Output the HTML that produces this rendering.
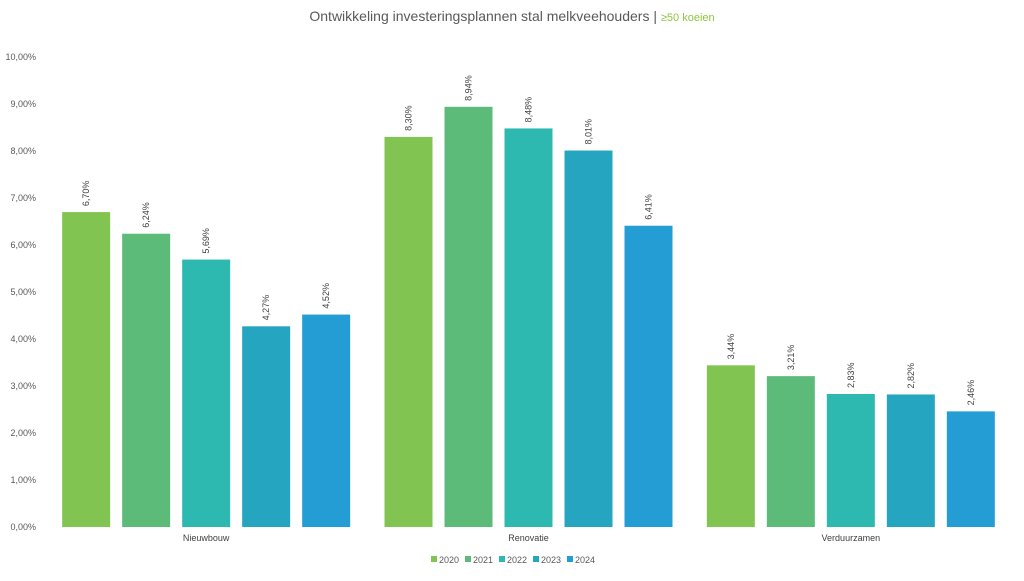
<!DOCTYPE html>
<html><head><meta charset="utf-8"><style>
body{margin:0;background:#fff;font-family:"Liberation Sans",sans-serif;}
svg text{font-family:"Liberation Sans",sans-serif;}
</style></head><body>
<svg id="chart" width="1024" height="576">
<text x="512" y="21" text-anchor="middle" font-size="14" fill="#595959">Ontwikkeling investeringsplannen stal melkveehouders | <tspan fill="#8dc63f" font-size="11">≥50 koeien</tspan></text>
<g id="yaxis"></g>
<g id="bars"></g>
<g id="xaxis"></g>
<g id="legend"></g>
</svg>
<script>
const categories=["Nieuwbouw","Renovatie","Verduurzamen"];
const seriesNames=["2020","2021","2022","2023","2024"];
const s2020=[6.70,8.30,3.44];
const s2021=[6.24,8.94,3.21];
const s2022=[5.69,8.48,2.83];
const s2023=[4.27,8.01,2.82];
const s2024=[4.52,6.41,2.46];
const yTicks=[0,1,2,3,4,5,6,7,8,9,10];
const series=[s2020,s2021,s2022,s2023,s2024];
const colors=["#82c451","#5dbb7a","#2db8b0","#25a5c0","#239dd4"];
const NS="http://www.w3.org/2000/svg";
const x0=45,x1=1012,yBase=527,yTop=57,yMax=10;
const y=v=>yBase-(v/yMax)*(yBase-yTop);
const catW=(x1-x0)/categories.length;
const barW=48,step=60;
const fmt=v=>v.toFixed(2).replace(".",",")+"%";
function mk(tag,attrs,parent){const e=document.createElementNS(NS,tag);for(const k in attrs)e.setAttribute(k,attrs[k]);parent.appendChild(e);return e;}
const ya=document.getElementById("yaxis");
yTicks.forEach(t=>{const e=mk("text",{x:36,y:y(t)+3,"text-anchor":"end","font-size":"9",fill:"#595959"},ya);e.textContent=fmt(t);

});
const bg=document.getElementById("bars");
const xa=document.getElementById("xaxis");
categories.forEach((c,ci)=>{
 const cx=x0+catW*(ci+0.5);
 series.forEach((s,si)=>{
  const bx=cx+(si-2)*step-barW/2;
  const r=mk("rect",{x:bx,y:y(s[ci]),width:barW,height:yBase-y(s[ci]),fill:colors[si]},bg);
  
  
  const lx=bx+barW/2+3,ly=y(s[ci])-6;
  const t=mk("text",{x:lx,y:ly,transform:`rotate(-90 ${lx} ${ly})`,"font-size":"9",fill:"#404040"},bg);
  t.textContent=fmt(s[ci]);
  
  
 });
 const l=mk("text",{x:cx,y:541,"text-anchor":"middle","font-size":"9",fill:"#404040"},xa);
 l.textContent=c;
 
 
});
const lg=document.getElementById("legend");
let lx=431;
seriesNames.forEach((n,i)=>{
 const g=mk("g",{},lg);
 
 
 mk("rect",{x:lx,y:556,width:6,height:6,fill:colors[i]},g);
 const t=mk("text",{x:lx+8,y:563,"font-size":"9",fill:"#595959"},g);
 t.textContent=n;
 lx+=34;
});
</script>
</body></html>
